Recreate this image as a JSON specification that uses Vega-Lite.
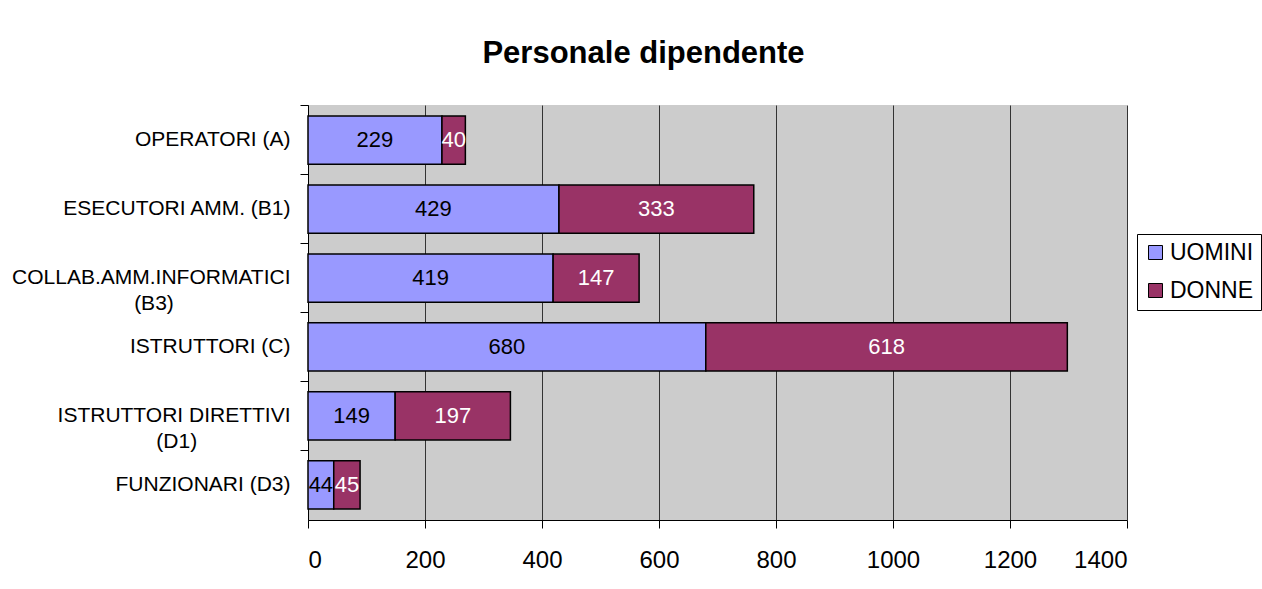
{
  "$schema": "https://vega.github.io/schema/vega-lite/v6.json",
  "width": 819,
  "height": 415,
  "autosize": {"type": "none"},
  "padding": {"left": 308, "top": 105, "right": 135, "bottom": 69},
  "background": "white",
  "title": {
    "text": "Personale dipendente",
    "font": "Liberation Sans",
    "fontSize": 31,
    "fontWeight": "bold",
    "color": "black",
    "anchor": "middle",
    "dx": -74,
    "offset": 35
  },
  "data": {
    "values": [
      {"categoria": "OPERATORI (A)", "sesso": "UOMINI", "n": 229},
      {"categoria": "OPERATORI (A)", "sesso": "DONNE", "n": 40},
      {"categoria": "ESECUTORI AMM. (B1)", "sesso": "UOMINI", "n": 429},
      {"categoria": "ESECUTORI AMM. (B1)", "sesso": "DONNE", "n": 333},
      {"categoria": "COLLAB.AMM.INFORMATICI (B3)", "sesso": "UOMINI", "n": 419},
      {"categoria": "COLLAB.AMM.INFORMATICI (B3)", "sesso": "DONNE", "n": 147},
      {"categoria": "ISTRUTTORI (C)", "sesso": "UOMINI", "n": 680},
      {"categoria": "ISTRUTTORI (C)", "sesso": "DONNE", "n": 618},
      {"categoria": "ISTRUTTORI DIRETTIVI (D1)", "sesso": "UOMINI", "n": 149},
      {"categoria": "ISTRUTTORI DIRETTIVI (D1)", "sesso": "DONNE", "n": 197},
      {"categoria": "FUNZIONARI (D3)", "sesso": "UOMINI", "n": 44},
      {"categoria": "FUNZIONARI (D3)", "sesso": "DONNE", "n": 45}
    ]
  },
  "transform": [
    {
      "stack": "n",
      "groupby": ["categoria"],
      "sort": [{"field": "sesso", "order": "descending"}],
      "as": ["n_start", "n_end"]
    },
    {"calculate": "(datum.n_start + datum.n_end) / 2", "as": "n_mid"}
  ],
  "encoding": {
    "y": {
      "field": "categoria",
      "type": "nominal",
      "sort": null,
      "scale": {"paddingInner": 0.3, "paddingOuter": 0.16},
      "axis": {
        "title": null,
        "domainColor": "black",
        "domainWidth": 1,
        "tickColor": "black",
        "tickSize": 8,
        "bandPosition": -0.217,
        "tickExtra": false,
        "labelFont": "Liberation Sans",
        "labelFontSize": 21,
        "labelColor": "black",
        "labelPadding": 10,
        "labelLineHeight": 26,
        "labelLimit": 400,
        "labelExpr": "datum.value == 'COLLAB.AMM.INFORMATICI (B3)' ? ['COLLAB.AMM.INFORMATICI', '(B3)\u00a0\u00a0\u00a0\u00a0\u00a0\u00a0\u00a0\u00a0\u00a0\u00a0\u00a0\u00a0\u00a0\u00a0\u00a0\u00a0\u00a0\u00a0\u00a0\u00a0\u200b'] : datum.value == 'ISTRUTTORI DIRETTIVI (D1)' ? ['ISTRUTTORI DIRETTIVI', '(D1)\u00a0\u00a0\u00a0\u00a0\u00a0\u00a0\u00a0\u00a0\u00a0\u00a0\u00a0\u00a0\u00a0\u00a0\u00a0\u00a0\u200b'] : datum.value"
      }
    }
  },
  "layer": [
    {
      "mark": {"type": "bar", "stroke": "black", "strokeWidth": 1.5},
      "encoding": {
        "x": {
          "field": "n_start",
          "type": "quantitative",
          "scale": {"domain": [0, 1400], "nice": false},
          "axis": {
            "title": null,
            "values": [0, 200, 400, 600, 800, 1000, 1200, 1400],
            "format": "d",
            "grid": true,
            "gridColor": "#333333",
            "gridWidth": 1,
            "domainColor": "black",
            "domainWidth": 1,
            "tickColor": "black",
            "tickSize": 8,
            "labelFont": "Liberation Sans",
            "labelFontSize": 24,
            "labelColor": "black",
            "labelPadding": 20
          }
        },
        "x2": {"field": "n_end"},
        "color": {
          "field": "sesso",
          "type": "nominal",
          "scale": {"domain": ["UOMINI", "DONNE"], "range": ["#9999FF", "#993366"]},
          "legend": {
            "title": null,
            "orient": "none",
            "legendX": 829,
            "legendY": 129,
            "strokeColor": "black",
            "fillColor": "white",
            "padding": 7,
            "symbolType": "square",
            "symbolSize": 196,
            "symbolStrokeColor": "black",
            "symbolStrokeWidth": 1,
            "symbolOpacity": 1,
            "labelFont": "Liberation Sans",
            "labelFontSize": 23,
            "labelColor": "black",
            "labelOffset": 3,
            "rowPadding": 14
          }
        }
      }
    },
    {
      "mark": {"type": "text", "font": "Liberation Sans", "fontSize": 22, "align": "center", "baseline": "middle"},
      "encoding": {
        "x": {"field": "n_mid", "type": "quantitative"},
        "text": {"field": "n", "type": "quantitative"},
        "color": {
          "condition": {"test": "datum.sesso == 'UOMINI'", "value": "black"},
          "value": "white"
        }
      }
    }
  ],
  "resolve": {"scale": {"color": "independent"}},
  "config": {
    "view": {"stroke": null, "fill": "#CCCCCC"},
    "font": "Liberation Sans"
  }
}
